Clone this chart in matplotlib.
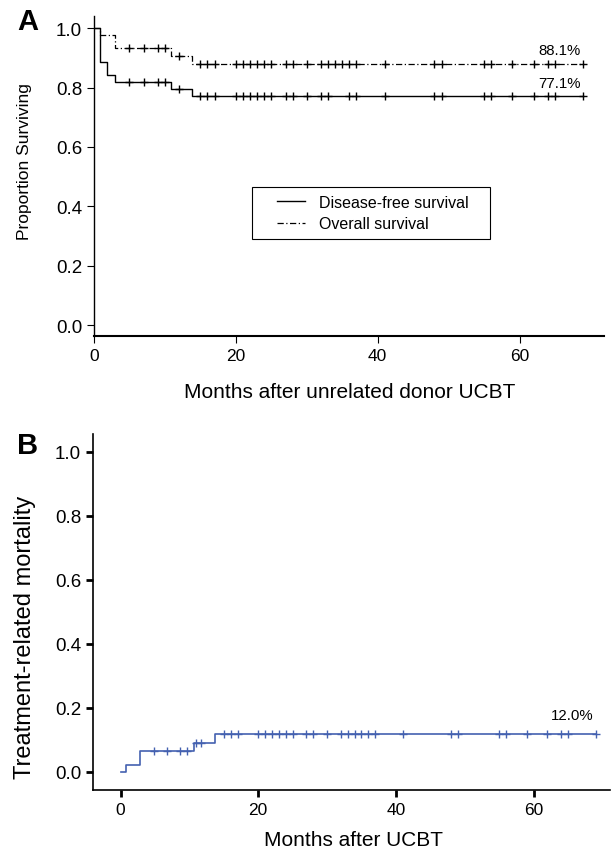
import numpy as np
import matplotlib
matplotlib.use("Agg")
from matplotlib import pyplot as plt
from matplotlib.patches import Rectangle

plt.rcParams['font.family'] = ['Liberation Sans', 'DejaVu Sans']

# Panel A: Kaplan-Meier steps (event times and survival after each step)
dfsTimes = [0, 0.9, 1.9, 3.0, 10.9, 13.8]
dfsSurv = [1.0, 0.886, 0.841, 0.818, 0.795, 0.771]
dfsCensor = [5, 7, 9, 10, 12, 15, 16, 17, 20, 21, 22, 23, 24, 25, 27, 28, 30,
             32, 33, 36, 37, 41, 48, 49, 55, 56, 59, 62, 64, 65, 69]

osTimes = [0, 0.9, 3.0, 10.9, 13.8]
osSurv = [1.0, 0.977, 0.932, 0.907, 0.881]
osCensor = [5, 7, 9, 10, 12, 15, 16, 17, 20, 21, 22, 23, 24, 25, 27, 28, 30,
            32, 33, 34, 35, 36, 37, 41, 48, 49, 55, 56, 59, 62, 64, 65, 69]

# Panel B: cumulative incidence of treatment-related mortality
trmTimes = [0, 0.8, 2.8, 10.7, 13.7]
trmVals = [0.0, 0.021, 0.064, 0.090, 0.117]
trmCensor = [4.8, 6.8, 8.7, 9.7, 10.9, 11.7, 15, 16, 17, 20, 21, 22, 23, 24, 25,
             27, 28, 30, 32, 33, 34, 35, 36, 37, 41, 48, 49, 55, 56, 59, 62, 64, 65, 69]

endTime = 69
yTicks = [0.0, 0.2, 0.4, 0.6, 0.8, 1.0]
xTicks = [0, 20, 40, 60]


def step_value(times, vals, t):
    idx = np.searchsorted(times, t, side='right') - 1
    return np.array(vals)[idx]


def draw_curve(ax, times, vals, censor, color, style, lw):
    x = list(times) + [endTime]
    y = list(vals) + [vals[-1]]
    line, = ax.step(x, y, where='post', color=color, linestyle=style, lw=lw)
    ax.plot(censor, step_value(times, vals, censor), linestyle='none',
            marker='+', ms=5.5, mew=1.0, color=color)
    return line


fig = plt.figure(figsize=(6.11, 8.54), dpi=100)

# ---- panel A
ax1 = fig.add_axes([94 / 611, 1 - 337.3 / 854, 510 / 611, 320.6 / 854])
l1 = draw_curve(ax1, dfsTimes, dfsSurv, dfsCensor, 'black', '-', 1.0)
l2 = draw_curve(ax1, osTimes, osSurv, osCensor, 'black', (0, (5, 2, 1, 2)), 0.9)
ax1.set_xlim(0, 71.9)
ax1.set_ylim(-0.038, 1.0425)
ax1.set_yticks(yTicks)
ax1.set_yticklabels(['%.1f' % v for v in yTicks])
ax1.set_xticks(xTicks)
for s in ['top', 'right']:
    ax1.spines[s].set_visible(False)
ax1.spines['left'].set_linewidth(1.0)
ax1.spines['bottom'].set_linewidth(1.5)
ax1.tick_params(length=5, width=0.8)
ax1.tick_params(axis='y', labelsize=13.5)
ax1.tick_params(axis='x', labelsize=12.5)
ax1.text(68.6, 0.881 + 0.022, '88.1%', ha='right', va='bottom', fontsize=10.8)
ax1.text(68.6, 0.771 + 0.022, '77.1%', ha='right', va='bottom', fontsize=10.8)

# legend box drawn as a plain rectangle, entries placed inside it
ax1.add_patch(Rectangle((0.31, 0.3035), 0.466, 0.1613, transform=ax1.transAxes,
                        fill=False, edgecolor='black', lw=0.8))
ax1.legend([l1, l2], ['Disease-free survival', 'Overall survival'],
           loc='center left', bbox_to_anchor=(0.358, 0.3846), fontsize=11.5,
           frameon=False, handlelength=1.75, handletextpad=0.9,
           borderpad=0, borderaxespad=0, labelspacing=0.4)

fig.text(25 / 611, 1 - 161.7 / 854, 'Proportion Surviving', rotation=90,
         ha='center', va='center', fontsize=12.5)
fig.text(350 / 611, 1 - 393 / 854, 'Months after unrelated donor UCBT',
         ha='center', va='center', fontsize=15)
fig.text(27.5 / 611, 1 - 22.5 / 854, 'A', ha='center', va='center',
         fontsize=21, fontweight='bold')

# ---- panel B
blue = '#4461b0'
ax2 = fig.add_axes([93 / 611, 1 - 790.7 / 854, 517 / 611, 355.7 / 854])
draw_curve(ax2, trmTimes, trmVals, trmCensor, blue, '-', 1.2)
ax2.set_xlim(-4.0, 71.1)
ax2.set_ylim(-0.056, 1.055)
ax2.set_yticks(yTicks)
ax2.set_yticklabels(['%.1f' % v for v in yTicks])
ax2.set_xticks(xTicks)
for s in ['top', 'right']:
    ax2.spines[s].set_visible(False)
ax2.spines['left'].set_linewidth(1.2)
ax2.spines['bottom'].set_linewidth(1.2)
ax2.tick_params(length=5, width=2)
ax2.tick_params(axis='y', labelsize=13.5)
ax2.tick_params(axis='x', labelsize=12.5)
ax2.text(68.7, 0.117 + 0.04, '12.0%', ha='right', va='bottom', fontsize=10.8)

fig.text(25 / 611, 1 - 637 / 854, 'Treatment-related mortality', rotation=90,
         ha='center', va='center', fontsize=17)
fig.text(354 / 611, 1 - 841 / 854, 'Months after UCBT',
         ha='center', va='center', fontsize=15)
fig.text(27.5 / 611, 1 - 446 / 854, 'B', ha='center', va='center',
         fontsize=21, fontweight='bold')

fig.savefig('out.png', dpi=100)
